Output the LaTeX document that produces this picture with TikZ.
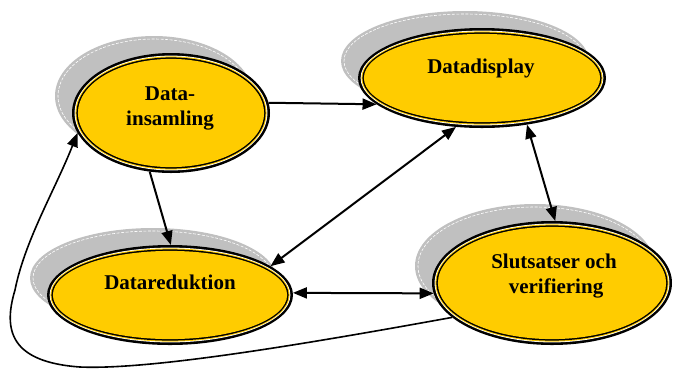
\documentclass[tikz,border=0pt]{standalone}
\usepackage{fontspec}
\setmainfont{Liberation Serif}
\usetikzlibrary{arrows.meta,shapes.geometric}
\definecolor{yel}{HTML}{FFCC00}
\definecolor{shad}{HTML}{C0C0C0}
\newcommand\stateell[5]{%
  \begin{scope}[shift={(#2,#3)}]
    \fill[shad] (-17,-17) ellipse [x radius=#4pt, y radius=#5pt];
    \draw[white, line width=0.6pt, dash pattern=on 3pt off 1.5pt] (-17,-17) ellipse [x radius=#4pt-3pt, y radius=#5pt-3pt];
    \fill[black] (0,0) ellipse [x radius=#4pt, y radius=#5pt];
    \fill[white] (0,0) ellipse [x radius=#4pt-2.6pt, y radius=#5pt-2.6pt];
    \fill[yel] (0,0) ellipse [x radius=#4pt-3.4pt, y radius=#5pt-3.4pt];
    \fill[black] (0,0) ellipse [x radius=#4pt-4.4pt, y radius=#5pt-4.4pt];
    \fill[yel] (0,0) ellipse [x radius=#4pt-5.9pt, y radius=#5pt-5.9pt];
    \node[ellipse, inner sep=0pt, outer sep=0pt, minimum width={2*#4pt}, minimum height={2*#5pt}] (#1) at (0,0) {};
  \end{scope}}
\tikzset{
  lbl/.style={anchor=base, inner sep=0pt, font=\fontsize{21}{25}\selectfont\bfseries},
  arr/.style={line width=2pt, -{Triangle[length=14pt,width=11pt]}},
  darr/.style={line width=2pt, {Triangle[length=14pt,width=11pt]}-{Triangle[length=14pt,width=11pt]}},
}
\begin{document}
\begin{tikzpicture}[x=1pt,y=-1pt]
\useasboundingbox (0,0) rectangle (674,368);
\stateell{A}{171}{113}{99}{60}
\stateell{B}{482}{78}{124}{50}
\stateell{C}{170}{295}{123}{50}
\stateell{D}{552}{283}{120}{62}
\node[lbl] (A1) at (170,100) {Data-};
\node[lbl] (A2) at (170,125) {insamling};
\node[lbl] (B1) at (481,73) {Datadisplay};
\node[lbl] (C1) at (170,289) {Datareduktion};
\node[lbl] (D1) at (554,268) {Slutsatser och};
\node[lbl] (D2) at (556,293) {verifiering};
\draw[arr] (A.6) -- (B.194);
\draw[arr] (A.250) -- (C.89);
\draw[darr] (B.242.6) -- (C.16);
\draw[darr] (B.-46) -- (D.87);
\draw[darr] (C.1) -- (D.185);
\draw[arr, line width=1.6pt] (D.199) .. controls (300,345) and (150,370) .. (80,367)
  .. controls (10,362) and (3,330) .. (15,290)
  .. controls (25,240) and (55,190) .. (A.192);
\end{tikzpicture}
\end{document}
